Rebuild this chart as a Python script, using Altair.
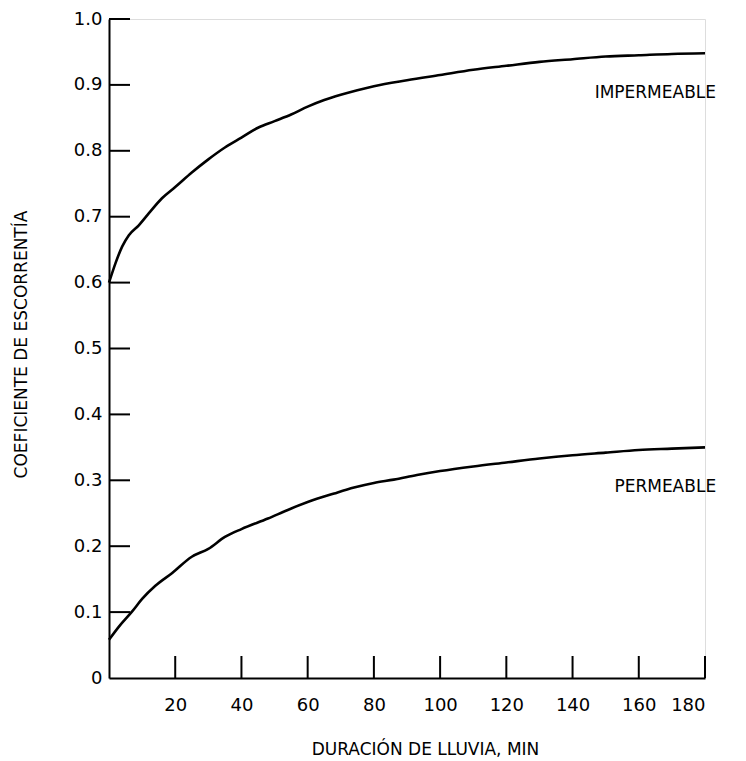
import altair as alt
import pandas as pd

# Impermeable curve (duration in min, runoff coefficient)
imp_x = [0, 2, 4, 6, 9, 12, 16, 20, 25, 30, 35, 40, 45, 50, 55, 60, 65, 70, 75, 80,
         90, 100, 110, 120, 130, 140, 150, 160, 170, 180]
imp_y = [0.600, 0.630, 0.655, 0.672, 0.687, 0.705, 0.728, 0.745, 0.767, 0.787, 0.805,
         0.820, 0.835, 0.845, 0.855, 0.867, 0.877, 0.885, 0.892, 0.898, 0.907, 0.915,
         0.923, 0.929, 0.935, 0.939, 0.943, 0.945, 0.947, 0.948]

# Permeable curve
perm_x = [0, 3, 7, 10, 14, 19, 25, 30, 35, 40, 48, 54, 60, 68, 74, 80, 86, 93, 100,
          110, 120, 130, 140, 150, 160, 170, 180]
perm_y = [0.058, 0.078, 0.101, 0.120, 0.140, 0.159, 0.184, 0.196, 0.214, 0.226, 0.242,
          0.255, 0.267, 0.280, 0.289, 0.296, 0.301, 0.308, 0.314, 0.321, 0.327, 0.333,
          0.338, 0.342, 0.346, 0.348, 0.350]

# Axis ticks / labels
x_ticks = [20, 40, 60, 80, 100, 120, 140, 160, 180]
y_ticks = [0.1, 0.2, 0.3, 0.4, 0.5, 0.6, 0.7, 0.8, 0.9, 1.0]
y_labels = [0, 0.1, 0.2, 0.3, 0.4, 0.5, 0.6, 0.7, 0.8, 0.9, 1.0]

# Curve labels
lab_text = ["IMPERMEABLE", "PERMEABLE"]
lab_x = [165, 168]
lab_y = [0.888, 0.290]

FONT = "DejaVu Sans"
W, H = 596, 659

curves = pd.concat([
    pd.DataFrame({"t": imp_x, "c": imp_y, "s": "Impermeable"}),
    pd.DataFrame({"t": perm_x, "c": perm_y, "s": "Permeable"}),
])
labels = pd.DataFrame({"t": lab_x, "c": lab_y, "txt": lab_text})
xt = pd.DataFrame({"t": x_ticks})
yt = pd.DataFrame({"c": y_ticks})

xscale = alt.Scale(domain=[0, 180], nice=False)
yscale = alt.Scale(domain=[0, 1], nice=False)

x_axis = alt.Axis(
    values=x_ticks, ticks=False, tickSize=0, grid=False,
    domainColor="black", domainWidth=2,
    labelFont=FONT, labelFontSize=18, labelColor="black", labelPadding=18,
    titleFont=FONT, titleFontSize=17,
    titleFontWeight="normal", titleColor="black",
    titleX=316, titleY=71, titleBaseline="middle", titleAlign="center",
)
y_axis = alt.Axis(
    values=y_labels, ticks=False, tickSize=0, grid=False,
    domainColor="black", domainWidth=2,
    labelFont=FONT, labelFontSize=18, labelColor="black", labelPadding=7,
    labelExpr="datum.value == 0 ? '0' : format(datum.value, '.1f')",
    titleFont=FONT, titleFontSize=17,
    titleFontWeight="normal", titleColor="black",
    titleX=-88, titleY=325, titleBaseline="middle", titleAlign="center", titleAngle=-90,
)

X = alt.X("t:Q", scale=xscale, axis=x_axis, title="DURACIÓN DE LLUVIA, MIN")
Y = alt.Y("c:Q", scale=yscale, axis=y_axis, title="COEFICIENTE DE ESCORRENTÍA")

lines = alt.Chart(curves).mark_line(color="black", strokeWidth=2.6, interpolate="monotone").encode(
    x=X, y=Y, detail="s:N",
)

xtick_rules = alt.Chart(xt).mark_rule(color="black", strokeWidth=2).encode(
    x=X,
    y=alt.value(H),
    y2=alt.value(H - 22),
)

ytick_rules = alt.Chart(yt).mark_rule(color="black", strokeWidth=2).encode(
    y=Y,
    x=alt.value(0),
    x2=alt.value(21),
)

texts = alt.Chart(labels).mark_text(font=FONT, fontSize=17, color="black",
                                    align="center", baseline="middle").encode(
    x=X, y=Y, text="txt:N",
)

chart = alt.layer(lines, xtick_rules, ytick_rules, texts).properties(
    width=W, height=H,
    autosize=alt.AutoSizeParams(type="none"),
    padding={"left": 101, "top": 11, "right": 33, "bottom": 83},
).configure_view(strokeWidth=0).configure(background="white")

chart.save("out.html", embed_options={"renderer": "svg", "actions": False})
